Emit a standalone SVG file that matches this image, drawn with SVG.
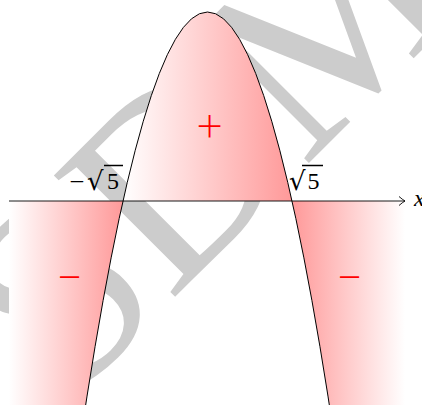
<svg xmlns="http://www.w3.org/2000/svg" width="422" height="405" viewBox="0 0 422 405">
<style>
.wm{font-family:"Liberation Serif",serif;font-size:262px;fill:#cccccc}
.lbl{font-family:"Liberation Serif",serif;font-size:24px;fill:#000}
.rad{font-family:"DejaVu Serif",serif;font-size:26px;fill:#000}
.sign{font-family:"Lato","Liberation Sans",sans-serif;font-weight:300;fill:#ff0000;text-anchor:middle}
.curve{fill:none;stroke:#000;stroke-width:1}
</style>
<defs>
<linearGradient id="gTop" gradientUnits="userSpaceOnUse" x1="123" y1="0" x2="292" y2="0"><stop offset="0" stop-color="#ffffff"/><stop offset="1" stop-color="#ff9999"/></linearGradient>
<linearGradient id="gLeft" gradientUnits="userSpaceOnUse" x1="9" y1="0" x2="123" y2="0"><stop offset="0" stop-color="#ffffff"/><stop offset="1" stop-color="#ff9999"/></linearGradient>
<linearGradient id="gRight" gradientUnits="userSpaceOnUse" x1="292" y1="0" x2="405" y2="0"><stop offset="0" stop-color="#ff9999"/><stop offset="1" stop-color="#ffffff"/></linearGradient>
</defs>
<g id="watermark"><text class="wm" x="-146" y="0" transform="translate(170,302) rotate(-45)">SDM</text></g>
<g id="regions">
<path id="region-top" d="M123,201 Q207.5,-177 292,201 Z" fill="url(#gTop)"/>
<path id="region-left" d="M9,201 L123,201 Q101,299.4 79,449 L9,449 Z" fill="url(#gLeft)"/>
<path id="region-right" d="M292,201 Q314,299.4 336,449 L405,449 L405,201 Z" fill="url(#gRight)"/>
</g>
<g id="connectors">
<line x1="9" y1="201" x2="405" y2="201" stroke="#000" stroke-width="0.9"/>
<path d="M399,196.5 Q402.5,199.6 405,201 Q402.5,202.4 399,205.5" fill="none" stroke="#000" stroke-width="0.9"/>
<path class="curve" d="M79,449 Q207.5,-425 336,449"/>
</g>
<g id="labels">
<text class="lbl" x="414" y="206" font-style="italic" font-size="22">x</text>
<text class="sign" x="77" y="191.5" font-size="30" style="fill:#000">−</text>
<text class="rad" x="87" y="190">√</text>
<text class="lbl" x="107" y="189">5</text>
<line x1="104" y1="165.5" x2="123" y2="165.5" stroke="#000" stroke-width="1.5"/>
<text class="rad" x="289" y="190">√</text>
<text class="lbl" x="307.5" y="189">5</text>
<line x1="302" y1="165.5" x2="323" y2="165.5" stroke="#000" stroke-width="1.5"/>
<text class="sign" x="209.5" y="141" font-size="46">+</text>
<text class="sign" x="69.5" y="292" font-size="46">−</text>
<text class="sign" x="349.5" y="292" font-size="46">−</text>
</g>
</svg>
